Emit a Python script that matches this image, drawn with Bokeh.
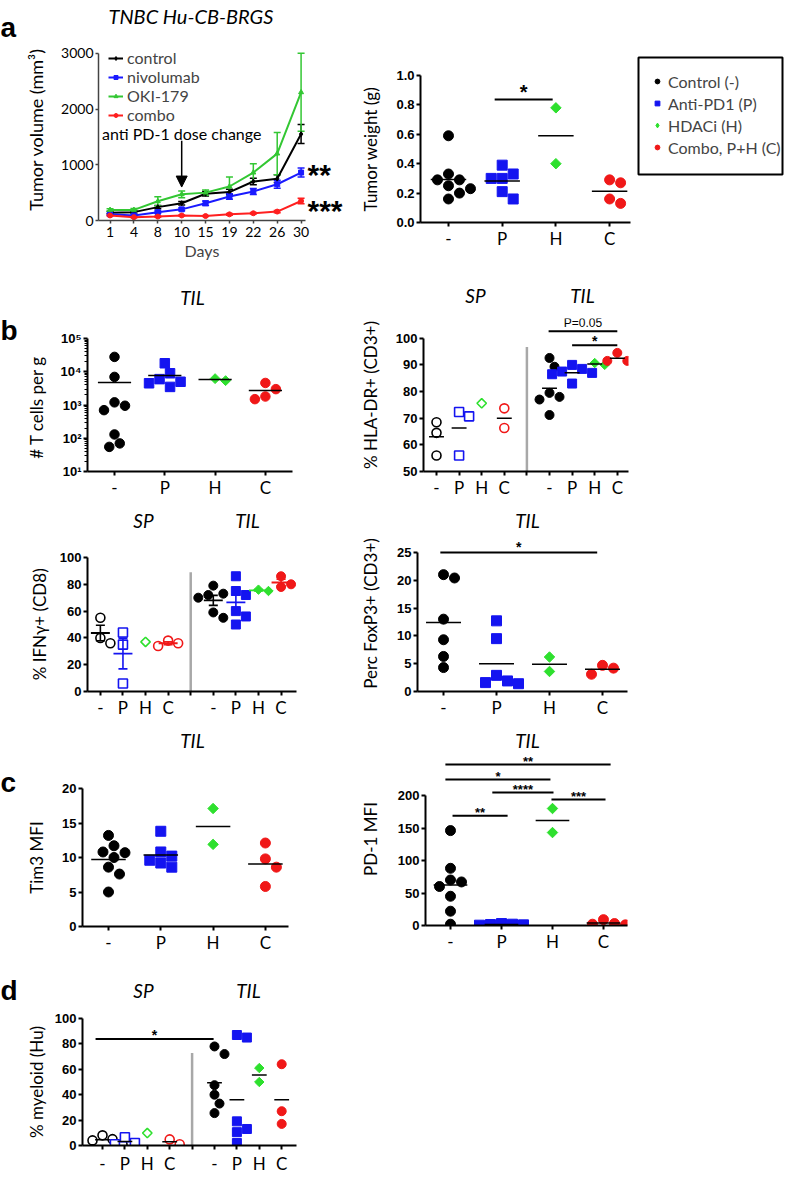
import numpy as np
from bokeh.plotting import figure
from bokeh.layouts import column, row
from bokeh.models import (Range1d, FixedTicker, Label, Arrow, NormalHead, Whisker,
                          TeeHead, ColumnDataSource, Legend, LegendItem, LinearAxis)
from bokeh.embed import file_html
from bokeh.resources import INLINE

# ------------------------------------------------------------------ data
GROUPS = ["-", "P", "H", "C"]
GROUP_NAMES = ["Control (-)", "Anti-PD1 (P)", "HDACi (H)", "Combo, P+H (C)"]
GROUP_COLORS = ["#000000", "#1414f0", "#2ee02e", "#f01818"]
GROUP_MARKERS = ["circle", "square", "square", "circle"]
GROUP_ANGLES = [0.0, 0.0, np.pi / 4, 0.0]

# a: tumour growth
DAYS = [1, 4, 8, 10, 15, 19, 22, 26, 30]
SERIES_NAMES = ["control", "nivolumab", "OKI-179", "combo"]
SERIES_COLORS = ["#000000", "#1a1aff", "#33c733", "#ff1f1f"]
SERIES_MARKERS = ["diamond", "square", "triangle", "circle"]
VOL_CONTROL = [140, 150, 240, 310, 480, 510, 700, 750, 1550]
VOL_CONTROL_SEM = [20, 20, 30, 30, 40, 50, 60, 70, 170]
VOL_NIVO = [110, 90, 150, 200, 310, 430, 520, 650, 860]
VOL_NIVO_SEM = [15, 15, 20, 25, 40, 50, 55, 70, 80]
VOL_OKI = [190, 190, 345, 470, 500, 610, 860, 1200, 2300]
VOL_OKI_SEM = [20, 25, 80, 60, 45, 170, 160, 380, 700]
VOL_COMBO = [90, 60, 70, 90, 80, 110, 130, 160, 350]
VOL_COMBO_SEM = [10, 10, 10, 10, 10, 15, 15, 20, 50]
DOSE_CHANGE_DAY = 10
GROWTH_STARS = ["**", "***"]          # nivolumab, combo vs control

# a: tumour weight
TW = [[0.59, 0.33, 0.29, 0.29, 0.25, 0.23, 0.20, 0.16],
      [0.39, 0.33, 0.30, 0.30, 0.21, 0.16],
      [0.78, 0.40],
      [0.29, 0.27, 0.16, 0.13]]
TW_BARS = [(0.86, 1.94, 0.837, "*")]

# b: T cells per g (TIL)
TCELLS = [[28000, 7000, 1200, 950, 700, 130, 55, 70],
          [18000, 9000, 6000, 5000, 4500, 3500],
          [5400, 6200],
          [4600, 3000, 1800, 1500]]

# b: HLA-DR
HLA_SP = [[68.5, 64.5, 56.0], [72.3, 70.7, 56.0], [75.6], [73.7, 66.3]]
HLA_TIL = [[92.6, 89.3, 79.5, 78.0, 77.0, 71.2],
           [90.0, 88.5, 87.5, 87.0, 86.5, 83.0],
           [90.0, 90.7],
           [94.5, 91.5, 91.5]]
HLA_BARS = [(4.96, 8.0, 102.6, "P=0.05"), (6.0, 8.0, 97.4, "*")]

# b: IFN-gamma
IFN_SP = [[55, 40, 36], [44, 35, 6], [37], [38, 36, 34]]
IFN_TIL = [[79, 73, 72, 70, 59, 55],
           [86, 75, 72, 60, 56, 50],
           [75, 76],
           [86, 80, 78]]

# b: FoxP3
FOX = [[21.0, 20.4, 13.0, 9.3, 6.3, 4.3],
       [12.7, 9.5, 2.9, 1.9, 1.4, 1.6],
       [6.2, 3.6],
       [4.7, 3.1, 4.2]]
FOX_BARS = [(-0.06, 2.9, 25.0, "*")]

# c: Tim3
TIM3 = [[13.2, 11.7, 10.8, 10.7, 10.0, 8.6, 7.6, 5.0],
        [13.8, 10.8, 10.2, 9.6, 9.2, 8.6],
        [17.1, 11.9],
        [12.1, 9.8, 8.6, 5.8]]

# c: PD-1
PD1 = [[146, 88, 70, 67, 60, 45, 22, 2],
       [3, 1, 0.5, 1.5, 2],
       [180, 143],
       [9, 3, 1, 2]]
PD1_BARS = [(-0.1, 3.14, 247.7, "**"), (-0.1, 1.96, 224.6, "*"),
            (0.82, 2.02, 204.6, "****"), (1.98, 3.04, 193.8, "***"),
            (0.04, 1.12, 169.0, "**")]

# d: myeloid
MY_SP = [[8, 5, 4, 1], [6.5, 2, 1], [9.8], [1, 4.8]]
MY_TIL = [[78, 72, 47.5, 40, 33, 25.5],
          [87, 85, 19, 13, 10.5, 2],
          [61, 50],
          [64, 27, 17]]
MY_BARS = [(-0.31, 4.96, 83.8, "*")]


# ------------------------------------------------------------------ helpers
class Panel:
    def __init__(self, ox, oy, w, h, frame, xr, yr, log=False):
        fl, fr, ft, fb = frame
        self.fl, self.fr, self.ft, self.fb = fl, fr, ft, fb
        self.xr, self.yr, self.log = xr, yr, log
        self.p = figure(width=w, height=h,
                        min_border_left=fl - ox, min_border_right=ox + w - fr,
                        min_border_top=ft - oy, min_border_bottom=oy + h - fb,
                        x_range=Range1d(*xr), y_range=Range1d(*yr),
                        y_axis_type="log" if log else "linear",
                        frame_align=False,
                        output_backend="svg", toolbar_location=None)
        self.p.outline_line_color = None
        self.p.xgrid.visible = False
        self.p.ygrid.visible = False
        self.ppx = (fr - fl) / (xr[1] - xr[0])
        if log:
            self.ppy = (fb - ft) / (np.log10(yr[1]) - np.log10(yr[0]))
        else:
            self.ppy = (fb - ft) / (yr[1] - yr[0])

    def X(self, sx):
        return self.xr[0] + (sx - self.fl) / self.ppx

    def SX(self, x):
        return self.fl + (x - self.xr[0]) * self.ppx

    def Y(self, sy):
        if self.log:
            return 10 ** (np.log10(self.yr[0]) + (self.fb - sy) / self.ppy)
        return self.yr[0] + (self.fb - sy) / self.ppy

    def SY(self, y):
        if self.log:
            return self.fb - (np.log10(y) - np.log10(self.yr[0])) * self.ppy
        return self.fb - (y - self.yr[0]) * self.ppy

    def text(self, sx, sy, s, size, font="Lato", style="normal", align="center"):
        self.p.add_layout(Label(x=self.X(sx), y=self.Y(sy), text=s, text_align=align,
                                text_baseline="middle", text_font=font,
                                text_font_size=size, text_font_style=style,
                                text_color="black"))


def strip(h, letter, sy_rel, w=22):
    s = figure(width=w, height=h, min_border_left=0, min_border_right=0,
               min_border_top=0, min_border_bottom=0, title=None,
               x_range=Range1d(0, w), y_range=Range1d(h, 0),
               x_axis_location=None, y_axis_location=None, frame_align=False,
               output_backend="svg", toolbar_location=None)
    s.outline_line_color = None
    s.xgrid.visible = False
    s.ygrid.visible = False
    s.add_layout(Label(x=0, y=sy_rel, text=letter, text_align="left",
                       text_baseline="middle", text_font="Liberation Sans",
                       text_font_size="28px", text_font_style="bold",
                       text_color="black"))
    return s


def top_labels(P, xs, texts, sy_center, size=19, style="italic", font="Lato"):
    half = 0.6 * size
    ax = LinearAxis(ticker=FixedTicker(ticks=xs), axis_line_color=None,
                    major_tick_line_color=None, minor_tick_line_color=None,
                    major_tick_out=0, major_tick_in=0,
                    major_label_overrides=dict(zip(xs, texts)),
                    major_label_text_font=font, major_label_text_font_size=f"{size}px",
                    major_label_text_font_style=style, major_label_text_color="black",
                    major_label_standoff=max(0, int(round(P.ft - sy_center - half))))
    P.p.add_layout(ax, "above")


def swarm(vals, ppx, ppy, d, log=False):
    ys = [(np.log10(v) if log else v) * ppy for v in vals]
    order = sorted(range(len(vals)), key=lambda i: -ys[i])
    cands = [0.0]
    for k in range(1, 14):
        cands += [k * d / 2, -k * d / 2]
    placed, offs = [], [0.0] * len(vals)
    for i in order:
        for c in cands:
            if all((c - px) ** 2 + (ys[i] - py) ** 2 >= (0.97 * d) ** 2 for px, py in placed):
                offs[i] = c / ppx
                placed.append((c, ys[i]))
                break
    return offs


def dots(P, xpos, vals, gi, size, hollow=False):
    offs = swarm(vals, P.ppx, P.ppy, size + 1.0, P.log)
    color = GROUP_COLORS[gi]
    rot = GROUP_ANGLES[gi] != 0
    P.p.scatter(x=[xpos + o for o in offs], y=vals, marker=GROUP_MARKERS[gi],
                angle=GROUP_ANGLES[gi], size=size * (0.74 if rot else 1.0),
                fill_color="white" if hollow else color, line_color=color,
                line_width=1.6 if hollow else 1.0)


def mean_line(P, xpos, vals, half=0.33, color="black", width=1.5):
    if len(vals) < 2:
        return
    m = float(np.mean(vals))
    P.p.segment(x0=[xpos - half], y0=[m], x1=[xpos + half], y1=[m],
                line_color=color, line_width=width)


def mean_sem(P, xpos, vals, color, half=0.42, cap=0.2):
    if len(vals) < 2:
        return
    m = float(np.mean(vals))
    s = float(np.std(vals, ddof=1) / np.sqrt(len(vals)))
    P.p.segment(x0=[xpos - half], y0=[m], x1=[xpos + half], y1=[m],
                line_color=color, line_width=1.8)
    P.p.segment(x0=[xpos, xpos - cap, xpos - cap], x1=[xpos, xpos + cap, xpos + cap],
                y0=[m - s, m - s, m + s], y1=[m + s, m - s, m + s],
                line_color=color, line_width=1.6)


def style_axes(P, xticks, xlabels, yticks, ylabels, ylabel, xfont="17px",
               yfont="13px", ybold=True, ytitle_size="17px", ystand=6, lw=2.0,
               yminor=None, ybounds=None, xstand=1):
    p = P.p
    xa, ya = p.xaxis[0], p.yaxis[0]
    for ax in (xa, ya):
        ax.axis_line_color = "black"
        ax.axis_line_width = lw
        ax.major_tick_line_color = "black"
        ax.major_tick_line_width = lw
        ax.major_tick_out = 4
        ax.major_tick_in = 0
        ax.minor_tick_line_color = None
        ax.major_label_text_color = "black"
    xa.ticker = FixedTicker(ticks=xticks)
    xa.major_label_overrides = dict(zip(xticks, xlabels))
    xa.major_label_text_font = "Lato"
    xa.major_label_text_font_size = xfont
    xa.major_label_standoff = xstand
    if yminor is not None:
        ya.ticker = FixedTicker(ticks=yticks, minor_ticks=yminor)
        ya.minor_tick_line_color = "black"
        ya.minor_tick_line_width = 1.2
        ya.minor_tick_out = 3
        ya.minor_tick_in = 0
    else:
        ya.ticker = FixedTicker(ticks=yticks)
    if ybounds is not None:
        ya.bounds = ybounds
    ya.major_label_overrides = dict(zip(yticks, ylabels))
    ya.major_label_text_font = "Liberation Sans" if ybold else "Lato"
    ya.major_label_text_font_style = "bold" if ybold else "normal"
    ya.major_label_text_font_size = yfont
    ya.major_label_standoff = 2
    ya.axis_label = ylabel
    ya.axis_label_text_font = "Lato"
    ya.axis_label_text_font_style = "normal"
    ya.axis_label_text_font_size = ytitle_size
    ya.axis_label_text_color = "black"
    ya.axis_label_standoff = ystand


def sig_bars(P, bars, star_size="14px", gap=4):
    for x0, x1, y, s in bars:
        P.p.add_layout(Arrow(x_start=x0, y_start=y, x_end=x1, y_end=y, start=None,
                             end=None, line_color="black", line_width=2))
        sy = P.SY(y)
        cx = (P.SX(x0) + P.SX(x1)) / 2
        if s.startswith("P"):
            P.text(cx, sy - 8, s, "12px", font="Liberation Sans")
        else:
            P.text(cx, sy - gap, s, star_size, font="Liberation Sans", style="bold")


def divider(P, x, y_top, y_bottom):
    P.p.segment(x0=[x], x1=[x], y0=[y_bottom], y1=[y_top], line_color="#a8a8a8",
                line_width=2.5)


CAT4 = list(range(4))
CAT9 = list(range(9))
LAB9 = GROUPS + [""] + GROUPS

# ------------------------------------------------------------------ a (left)
A1 = Panel(22, 0, 323, 264, (90, 305, 35, 220), (-0.484, 8.185),
           (0, 3000 * 185 / 170))
p = A1.p
idx = list(range(len(DAYS)))
series = [(VOL_CONTROL, VOL_CONTROL_SEM), (VOL_NIVO, VOL_NIVO_SEM),
          (VOL_OKI, VOL_OKI_SEM), (VOL_COMBO, VOL_COMBO_SEM)]
leg_items = []
for (vals, sems), name, col, mk in zip(series, SERIES_NAMES, SERIES_COLORS, SERIES_MARKERS):
    src = ColumnDataSource(dict(x=idx, y=vals,
                                lo=[v - s for v, s in zip(vals, sems)],
                                hi=[v + s for v, s in zip(vals, sems)]))
    p.add_layout(Whisker(source=src, base="x", lower="lo", upper="hi",
                         line_color=col, line_width=1.5,
                         upper_head=TeeHead(size=7, line_color=col, line_width=1.5),
                         lower_head=TeeHead(size=7, line_color=col, line_width=1.5)))
    ln = p.line("x", "y", source=src, line_color=col, line_width=2)
    sc = p.scatter("x", "y", source=src, marker=mk, size=5, color=col)
    leg_items.append(LegendItem(label=name, renderers=[ln, sc]))
p.add_layout(Legend(items=leg_items, location="top_left", padding=0, margin=10, spacing=0,
                    label_height=16, glyph_width=15, glyph_height=10, label_standoff=4,
                    label_text_font="Lato", label_text_font_size="16px",
                    label_text_line_height=0.9,
                    border_line_color=None, background_fill_alpha=0))
style_axes(A1, idx, [str(d) for d in DAYS], [0, 1000, 2000, 3000],
           ["0", "1000", "2000", "3000"], "Tumor volume (mm³)", xfont="14px",
           yfont="14px", ybold=False, ytitle_size="18px", ystand=11, lw=1.5,
           ybounds=(0, 3000))
for ax in (p.xaxis[0], p.yaxis[0]):
    ax.axis_line_color = "#444444"
    ax.major_tick_line_color = "#444444"
    ax.major_tick_out = 3
p.xaxis[0].axis_label = "Days"
p.xaxis[0].axis_label_text_font = "Lato"
p.xaxis[0].axis_label_text_font_style = "normal"
p.xaxis[0].axis_label_text_font_size = "16px"
p.xaxis[0].axis_label_standoff = 1
p.xaxis[0].major_label_standoff = 3
dose_x = DAYS.index(DOSE_CHANGE_DAY)
p.add_layout(Label(x=dose_x, y=A1.Y(132), text="anti PD-1 dose change", text_align="center",
                   text_baseline="middle", text_font="Lato", text_font_size="16px",
                   text_color="black"))
p.add_layout(Arrow(x_start=dose_x, y_start=A1.Y(139), x_end=dose_x, y_end=A1.Y(186),
                   line_color="black", line_width=1.5,
                   end=NormalHead(size=11, fill_color="black", line_color="black")))
top_labels(A1, [A1.X(186)], ["TNBC Hu-CB-BRGS"], 12, size=20)
star_y = [A1.Y(173), A1.Y(210)]
p.add_layout(LinearAxis(ticker=FixedTicker(ticks=star_y), axis_line_color=None,
                        major_tick_line_color=None, minor_tick_line_color=None,
                        major_tick_out=0, major_tick_in=0,
                        major_label_overrides=dict(zip(star_y, GROWTH_STARS)),
                        major_label_text_font="Liberation Sans",
                        major_label_text_font_style="bold",
                        major_label_text_font_size="30px",
                        major_label_text_color="black", major_label_standoff=2),
             "right")
SA = strip(264, "a", 27)

# ------------------------------------------------------------------ a (right)
A2 = Panel(345, 0, 291, 264, (420, 630, 75, 222), (-0.521, 3.389), (0, 1.0))
for gi in range(4):
    dots(A2, gi, TW[gi], gi, 10)
    mean_line(A2, gi, TW[gi])
style_axes(A2, CAT4, GROUPS, [0, 0.2, 0.4, 0.6, 0.8, 1.0],
           ["0.0", "0.2", "0.4", "0.6", "0.8", "1.0"], "Tumor weight (g)", ystand=12)
sig_bars(A2, TW_BARS, star_size="20px", gap=7)

# ------------------------------------------------------------------ legend box
A3 = figure(width=148, height=264, min_border_left=2, min_border_right=2,
            min_border_top=57, min_border_bottom=90, x_axis_location=None,
            y_axis_location=None, x_range=Range1d(0, 1), y_range=Range1d(0, 1),
            frame_align=False, output_backend="svg", toolbar_location=None)
A3.outline_line_color = "black"
A3.outline_line_width = 2
A3.xgrid.visible = False
A3.ygrid.visible = False
LEGEND_MARKERS = ["circle", "square", "diamond", "circle"]
LEGEND_SIZES = [8, 8, 11, 8]
items = []
for gi in range(4):
    r = A3.scatter(x=[-5], y=[-5], marker=LEGEND_MARKERS[gi], size=LEGEND_SIZES[gi],
                   color=GROUP_COLORS[gi])
    items.append(LegendItem(label=GROUP_NAMES[gi], renderers=[r]))
A3.add_layout(Legend(items=items, location="top_left", padding=0, margin=13, spacing=0,
                     label_height=22, glyph_width=12, glyph_height=12, label_standoff=5,
                     label_text_font="Lato", label_text_font_size="16px",
                     border_line_color=None, background_fill_alpha=0))

# ------------------------------------------------------------------ b: T cells
B1L = Panel(22, 264, 323, 236, (87, 292, 338, 473), (-0.537, 3.539), (10, 1e5), log=True)
for gi in range(4):
    dots(B1L, gi, TCELLS[gi], gi, 9.5)
    mean_line(B1L, gi, TCELLS[gi])
minor = [k * 10 ** e for e in range(1, 5) for k in range(2, 10)]
style_axes(B1L, CAT4, GROUPS, [10, 100, 1000, 10000, 100000],
           ["10¹", "10²", "10³", "10⁴", "10⁵"], "# T cells  per g", yminor=minor,
           ystand=11)
top_labels(B1L, [B1L.X(192)], ["TIL"], 297)
SB = strip(236, "b", 66)

# ------------------------------------------------------------------ b: HLA-DR
B1R = Panel(345, 264, 295, 236, (423, 628, 318, 473), (-0.575, 8.495),
            (50, 100 + 20 / 2.7))
divider(B1R, 4, 96.7, 50)
for gi in range(4):
    dots(B1R, gi, HLA_SP[gi], gi, 9, hollow=True)
    mean_line(B1R, gi, HLA_SP[gi])
    dots(B1R, gi + 5, HLA_TIL[gi], gi, 9)
    mean_line(B1R, gi + 5, HLA_TIL[gi])
style_axes(B1R, CAT9, LAB9, [50, 60, 70, 80, 90, 100],
           ["50", "60", "70", "80", "90", "100"], "% HLA-DR+ (CD3+)", ystand=12,
           ybounds=(50, 100))
sig_bars(B1R, HLA_BARS)
top_labels(B1R, [B1R.X(475), B1R.X(582)], ["SP", "TIL"], 295)

# ------------------------------------------------------------------ b: IFN-gamma
B2L = Panel(0, 500, 345, 220, (87, 296, 557, 693), (-0.570, 8.684), (0, 100))
divider(B2L, 4, 89, 0)
for gi in range(4):
    dots(B2L, gi, IFN_SP[gi], gi, 9, hollow=True)
    mean_sem(B2L, gi, IFN_SP[gi], GROUP_COLORS[gi])
    dots(B2L, gi + 5, IFN_TIL[gi], gi, 9)
    mean_sem(B2L, gi + 5, IFN_TIL[gi], GROUP_COLORS[gi])
style_axes(B2L, CAT9, LAB9, [0, 20, 40, 60, 80, 100],
           ["0", "20", "40", "60", "80", "100"], "% IFNγ+ (CD8)", ystand=7)
top_labels(B2L, [B2L.X(143), B2L.X(247)], ["SP", "TIL"], 520)

# ------------------------------------------------------------------ b: FoxP3
B2R = Panel(345, 500, 295, 220, (417, 627, 535, 692), (-0.491, 3.472),
            (0, 25 + 17 / 5.6))
for gi in range(4):
    dots(B2R, gi, FOX[gi], gi, 10)
    mean_line(B2R, gi, FOX[gi])
style_axes(B2R, CAT4, GROUPS, [0, 5, 10, 15, 20, 25],
           ["0", "5", "10", "15", "20", "25"], "Perc FoxP3+ (CD3+)", ystand=13,
           ybounds=(0, 25))
sig_bars(B2R, FOX_BARS, gap=5)
top_labels(B2R, [B2R.X(527)], ["TIL"], 520)

# ------------------------------------------------------------------ c: Tim3
CL = Panel(22, 720, 323, 235, (82, 288, 788, 928), (-0.497, 3.442), (0, 20))
for gi in range(4):
    dots(CL, gi, TIM3[gi], gi, 10)
    mean_line(CL, gi, TIM3[gi])
style_axes(CL, CAT4, GROUPS, [0, 5, 10, 15, 20], ["0", "5", "10", "15", "20"],
           "Tim3 MFI", ystand=12)
top_labels(CL, [CL.X(192)], ["TIL"], 740)
SC = strip(235, "c", 62)

# ------------------------------------------------------------------ c: PD-1
CR = Panel(345, 720, 295, 235, (425, 627, 752, 925), (-0.490, 3.471),
           (0, 200 + 43 / 0.65))
for gi in range(4):
    dots(CR, gi, PD1[gi], gi, 10)
    mean_line(CR, gi, PD1[gi])
style_axes(CR, CAT4, GROUPS, [0, 50, 100, 150, 200], ["0", "50", "100", "150", "200"],
           "PD-1 MFI", ystand=14, ybounds=(0, 200))
sig_bars(CR, PD1_BARS, star_size="13px", gap=3)
top_labels(CR, [CR.X(527)], ["TIL"], 740)

# ------------------------------------------------------------------ d: myeloid
DL = Panel(22, 955, 323, 221, (82, 296, 1018, 1154), (-0.893, 8.661), (0, 100))
divider(DL, 4, 72.8, 0)
for gi in range(4):
    dots(DL, gi, MY_SP[gi], gi, 9, hollow=True)
    mean_line(DL, gi, MY_SP[gi])
    dots(DL, gi + 5, MY_TIL[gi], gi, 9)
    mean_line(DL, gi + 5, MY_TIL[gi])
style_axes(DL, CAT9, LAB9, [0, 20, 40, 60, 80, 100],
           ["0", "20", "40", "60", "80", "100"], "% myeloid (Hu)", ystand=5, xstand=3)
sig_bars(DL, MY_BARS)
top_labels(DL, [DL.X(143), DL.X(248)], ["SP", "TIL"], 990)
SD = strip(221, "d", 35)

layout = column(row(SA, A1.p, A2.p, A3),
                row(SB, B1L.p, B1R.p),
                row(B2L.p, B2R.p),
                row(SC, CL.p, CR.p),
                row(SD, DL.p))

open("out.html", "w").write(file_html(layout, INLINE))
